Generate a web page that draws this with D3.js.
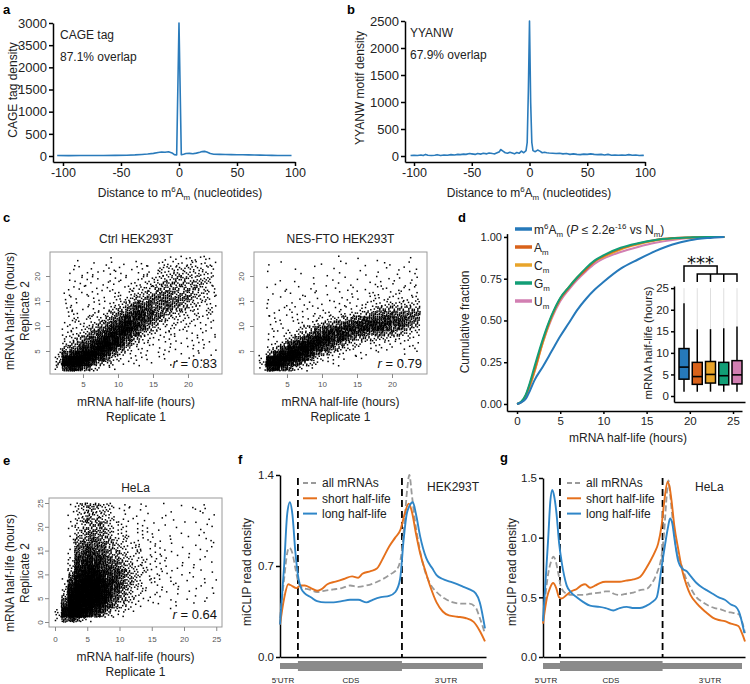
<!DOCTYPE html>
<html><head><meta charset="utf-8">
<script src="https://cdn.jsdelivr.net/npm/d3@7"></script>
<style>
body{margin:0;background:#fff;}
svg{display:block;}
</style></head><body>
<svg id="fig" width="750" height="684"></svg>
<script>
// ---------------- DATA ----------------
// a: CAGE tag density vs distance
const cageX = [-105,-95,-85,-75,-65,-55,-45,-38,-32,-27,-22,-18,-15,-12,-9,-6,-4,-2,0,2,4,6,9,12,15,18,20,22,24,27,30,35,40,45,50,55,60,65,70,75,80,85,90,97];
const cageY = [10,8,10,12,12,15,18,25,35,45,60,80,90,85,95,70,30,25,3000,30,40,55,60,50,65,85,100,105,90,55,40,38,35,32,30,28,25,22,20,18,15,12,10,10];
const cageTickValues = [0,500,1000,1500,2000,2500,3000];
const cageTickLabels = ["0","500","1000","1500","2000","3500","3000"];
// b: YYANW motif density
const yyX = [-103,-100,-97,-94,-92,-90,-88,-85,-82,-80,-77,-74,-71,-68,-65,-62,-60,-57,-55,-52,-50,-47,-45,-42,-40,-37,-35,-32,-30,-28,-26,-25,-23,-21,-19,-17,-15,-13,-11,-9,-7,-5,-3,-2,-1,0,1,2,3,5,7,9,11,13,15,17,20,23,26,29,32,35,38,41,44,47,50,53,56,59,62,65,68,71,74,77,80,83,86,89,92,95,98,99];
const yyY = [10,15,10,20,10,30,15,10,15,25,10,20,15,25,20,30,25,35,30,45,40,30,45,35,50,40,55,45,40,60,80,120,90,60,50,70,55,40,65,50,90,60,100,250,1200,2500,1000,250,100,80,110,90,60,70,60,55,50,45,50,40,45,30,40,30,25,35,30,40,30,25,30,20,30,15,20,15,20,15,25,15,20,10,15,10];
const yyTickValues = [0,500,1000,1500,2000,2500];
const distTicks = [-100,-50,0,50,100];

// c, e: scatter density (level 0-9 per 1h x 1h cell), rows from top (high y) to bottom
const densityCounts = [0,1,2,4,7,12,18,26,36,50];
const ctrlGrid = [
"000010000100000011122221","000100101110111122222222","000110111111111223333322","000111111111112233333332",
"000111111111122333443332","000111111111223344444432","001111111112233444444432","001111111122334455444332",
"001111111223445555554332","001111112234556555543322","001211112345666555443222","001211223456776554332222",
"001222234567776543322221","001222345678765432222211","002223456788764322221111","002234567887643222111111",
"002345678876432211111111","003456789875322111111111","014567898753211111111111","026789987532111111011101",
"038999875321111110101100","049998643211111001000000","026875321100000000000000","000000000000000000000000"];
const nesGrid = [
"000000000000100101000010","001010000100110010110010","000000101001000100011101","001000010010100010101011",
"000010001001010101011111","000100101010101011101111","001010101101011011211111","001011010110101112111211",
"001010110101111112222222","001011011101111122233333","001111111111112223444444","001111111112223345555555",
"001111112223345566666655","001111122344566777776654","001111234566777777765543","001112345677776655544432",
"001123567887765443332221","001246788876543222211111","002468898765432111111111","014789987543211110100101",
"028999875321111100000100","039987643211100000000000","027865321000000000000000","000000000000000000000000"];
const helaGrid = [
"0013444331110110100101010","0012343321110100001001110","0012343321101010010000101","0013444332111100101010010",
"0012344432111101010001011","0013444432211110101000100","0013454432211111010100110","0014455443221111010010011",
"0014555543222111101001001","0015565543322211110100101","0015666544322211101010010","0026676654332221111010110",
"0026777655432221110101001","0037787665433221111101000","0047888766543221111010101","0158898766543221110101010",
"0168999876543221111010011","0279999876543211101101101","0389999876432211110110001","0499999875432111100101010",
"0599999865432111011010010","1699998764321100101001000","2899987643211000010000000","3899876432100000000000000",
"2565310000000000000000000"];
const scatterTicksC = [5,10,15,20];
const scatterTicksE = [0,5,10,15,20,25];

// d: cumulative fraction of mRNA half-life
const cdfHours = [0,0.5,1,1.5,2,3,4,5,6,7,8,9,10,12,14,16,18,20,22,24];
const cdfM6Am = [0,0.01,0.03,0.08,0.14,0.225,0.315,0.405,0.485,0.565,0.63,0.685,0.73,0.81,0.865,0.915,0.955,0.98,0.993,1.0];
const cdfAm = [0,0.012,0.05,0.12,0.2,0.38,0.525,0.63,0.695,0.755,0.805,0.855,0.885,0.93,0.96,0.982,0.993,0.997,1.0,1.0];
const cdfCm = [0,0.012,0.045,0.11,0.19,0.37,0.52,0.63,0.70,0.76,0.81,0.855,0.88,0.925,0.955,0.978,0.99,0.996,1.0,1.0];
const cdfGm = [0,0.015,0.055,0.13,0.22,0.39,0.53,0.635,0.70,0.76,0.815,0.86,0.89,0.935,0.962,0.982,0.992,0.997,1.0,1.0];
const cdfUm = [0,0.012,0.045,0.11,0.19,0.37,0.51,0.615,0.685,0.745,0.795,0.84,0.87,0.91,0.94,0.965,0.982,0.993,0.998,1.0];
const cdfTicksX = [0,5,10,15,20,25];
const cdfTicksY = [0,0.25,0.5,0.75,1];
// d inset boxplot
const boxNames = ["m6Am","Am","Cm","Gm","Um"];
const boxLo = [1,1,1,1,1];
const boxQ1 = [3.9,2.7,3.0,2.6,2.8];
const boxMed = [6.7,4.5,5.0,4.7,4.9];
const boxQ3 = [11.0,7.8,8.0,7.8,8.2];
const boxHi = [21.5,15.5,15.5,15.7,16.1];
const boxOutTop = [25,25,25,25,25];
const boxTicks = [0,5,10,15,20,25];

// f: HEK293T miCLIP metagene (position 0-100 along 5'UTR-CDS-3'UTR)
const fAllPos = [0,2,3.5,4.5,6,7.5,9,11,14,18,22,26,30,34,38,42,46,50,54,57,59,60.5,61.8,62.8,64,65.5,67,70,73,76,80,84,88,92,95,97,99.5];
const fAllVal = [0.3,0.6,0.8,0.84,0.8,0.68,0.57,0.53,0.52,0.5,0.51,0.52,0.53,0.55,0.54,0.55,0.57,0.6,0.64,0.68,0.8,1.05,1.3,1.4,1.25,1.05,0.9,0.68,0.56,0.5,0.45,0.42,0.41,0.41,0.38,0.3,0.18];
const fShortPos = [0,2,4,5.5,8,10,12,15,18,20,23,27,31,35,38,40,44,47,50,53,56,58.5,60.5,62.5,64,66,68,71,73,76,79,82,86,90,94,97,99.5];
const fShortVal = [0.25,0.45,0.56,0.55,0.53,0.55,0.55,0.53,0.51,0.52,0.56,0.58,0.6,0.62,0.61,0.64,0.66,0.68,0.76,0.85,0.92,0.98,1.1,1.18,1.12,0.95,0.8,0.64,0.54,0.42,0.35,0.32,0.31,0.3,0.27,0.2,0.12];
const fLongPos = [0,2,3.5,4.8,6,7.5,9,10.5,12,15,18,22,26,30,34,38,42,45,49,53,56,58.3,60,61.5,62.5,64.5,66,68,71,74,76,79,82.5,86,89,92,95,97,99.5];
const fLongVal = [0.25,0.7,1.1,1.19,1.1,0.8,0.6,0.52,0.49,0.46,0.43,0.42,0.42,0.43,0.44,0.44,0.42,0.44,0.46,0.47,0.5,0.6,0.9,1.1,1.15,1.19,1.1,0.93,0.76,0.68,0.63,0.6,0.58,0.56,0.54,0.52,0.49,0.42,0.22];
const fBounds = [8.7,59.2];
const fTicks = [0,0.7,1.4];
// g: HeLa miCLIP metagene
const gAllPos = [0,2.6,4,5.1,6,7.6,9,11.7,14,16.7,20,23.3,28.2,31,33.2,35,38.1,41.4,44.7,48,51.3,54,56.3,58.7,60,61,62.1,63,64.5,66,68,71,73,76,79,82,85,88,91,94,96.7,98.5,100];
const gAllVal = [0.3,0.7,0.8,0.84,0.82,0.7,0.58,0.53,0.52,0.52,0.52,0.53,0.54,0.55,0.55,0.53,0.52,0.53,0.54,0.56,0.57,0.62,0.7,0.85,1.05,1.3,1.48,1.35,1.1,0.9,0.8,0.65,0.58,0.5,0.46,0.43,0.41,0.4,0.38,0.37,0.36,0.3,0.2];
const gShortPos = [0,2,3.5,5,6.5,8,9.2,11.7,14,16.7,19,20.8,23.3,26,28.2,31,34.8,38,41,44.7,48,51.3,53,55.4,57,58.7,60,61.7,62.7,63.7,65,67,69,71.1,73,76.1,79,81,84,87,90,93,96.7,98.5,100];
const gShortVal = [0.28,0.5,0.58,0.62,0.58,0.5,0.49,0.52,0.55,0.57,0.6,0.61,0.58,0.6,0.62,0.63,0.63,0.63,0.64,0.65,0.67,0.75,0.8,0.88,0.95,1.1,1.3,1.47,1.42,1.3,1.1,0.9,0.72,0.6,0.52,0.45,0.4,0.37,0.33,0.31,0.3,0.28,0.26,0.2,0.13];
const gLongPos = [0,1.5,2.6,3.6,4.6,5.5,6.7,8,9.2,10.5,11.7,14,16.7,20,23.3,28,31,34.8,38,41.4,45,48,51.3,54,56.3,58.7,60.5,61.8,62.9,64,65,67,69,71,73,76,79,81,84,87,90,93,95.5,97,99.7];
const gLongVal = [0.3,0.7,1.0,1.3,1.4,1.35,1.2,0.95,0.8,0.68,0.6,0.54,0.5,0.46,0.43,0.42,0.41,0.39,0.41,0.42,0.41,0.41,0.43,0.46,0.5,0.75,0.95,1.08,1.16,1.12,1.0,0.8,0.74,0.72,0.68,0.62,0.58,0.56,0.53,0.5,0.48,0.44,0.42,0.38,0.2];
const gBounds = [8.4,59.2];
const gTicks = [0,0.5,1.0,1.5];

// ---------------- DRAWING ----------------
const FONT = "'Liberation Sans', Arial, Helvetica, sans-serif";
const TXT = "#222";
const svg = d3.select("#fig");
svg.append("rect").attr("width",750).attr("height",684).attr("fill","#fff");

function richText(parent, x, y, parts, size, opts) {
  opts = opts || {};
  const t = parent.append("text").attr("x",x).attr("y",y).attr("font-size",size)
    .attr("font-family",FONT).attr("fill",opts.fill||TXT);
  if (opts.anchor) t.attr("text-anchor",opts.anchor);
  if (opts.transform) t.attr("transform",opts.transform);
  if (opts.weight) t.attr("font-weight",opts.weight);
  let cur = 0;
  parts.forEach(p => {
    const s = typeof p === "string" ? {t:p} : p;
    let target = 0, fs = size;
    if (s.sup) { target = -size*0.38; fs = size*0.66; }
    if (s.sub) { target = size*0.25; fs = size*0.66; }
    const ts = t.append("tspan").text(s.t).attr("dy", target-cur).attr("font-size",fs);
    if (s.it) ts.attr("font-style","italic");
    cur = target;
  });
  return t;
}
function label(parent,x,y,s,size,opts){ return richText(parent,x,y,[s],size,opts); }
function axisStyle(sel,size,color,sw){
  sel.select(".domain").attr("stroke",color).attr("stroke-width",sw);
  sel.selectAll(".tick line").attr("stroke",color).attr("stroke-width",sw);
  sel.selectAll(".tick text").attr("font-size",size).attr("font-family",FONT).attr("fill",TXT);
}
function lineFrom(xs,ys,xS,yS,curve){
  const l = d3.line().x(i=>xS(xs[i])).y(i=>yS(ys[i]));
  if (curve) l.curve(curve);
  return l(d3.range(xs.length));
}
const plain = d => String(d);
const LINE_BLUE = "#2a7bbb";
const distLabel = ["Distance to m",{t:"6",sup:true},"A",{t:"m",sub:true}," (nucleotides)"];

// panel letters
[["a",3,14],["b",347,14],["c",3,222],["d",458,222],["e",3,465],["f",238,464],["g",500,462]].forEach(d=>{
  label(svg,d[1],d[2],d[0],13,{weight:"bold",fill:"#000"});
});

// ---- a ----
(function(){
  const g = svg.append("g");
  const x = d3.scaleLinear().domain([-108.6,100]).range([53,295]);
  const y = d3.scaleLinear().domain([-135,3000]).range([162,23]);
  g.append("g").attr("transform","translate(0,162)")
    .call(d3.axisBottom(x).tickValues(distTicks).tickFormat(plain).tickSize(4).tickSizeOuter(0).tickPadding(2))
    .call(axisStyle,12.5,"#000",1.5);
  g.append("g").attr("transform","translate(53,0)")
    .call(d3.axisLeft(y).tickValues(cageTickValues).tickFormat((d,i)=>cageTickLabels[i]).tickSize(4).tickSizeOuter(0).tickPadding(2))
    .call(axisStyle,13,"#000",1.5);
  g.append("path").attr("d",lineFrom(cageX,cageY,x,y)).attr("fill","none").attr("stroke",LINE_BLUE).attr("stroke-width",1.6).attr("stroke-linejoin","round");
  label(g,60,39,"CAGE tag",12);
  label(g,60,61,"87.1% overlap",12);
  richText(g,180,197,distLabel,12,{anchor:"middle"});
  label(g,0,0,"CAGE tag density",12,{anchor:"middle",transform:"translate(17,90) rotate(-90)"});
})();

// ---- b ----
(function(){
  const g = svg.append("g");
  const x = d3.scaleLinear().domain([-107.8,100]).range([405,645]);
  const y = d3.scaleLinear().domain([-111,2500]).range([162,21]);
  g.append("g").attr("transform","translate(0,162)")
    .call(d3.axisBottom(x).tickValues(distTicks).tickFormat(plain).tickSize(4).tickSizeOuter(0).tickPadding(2))
    .call(axisStyle,12.5,"#000",1.5);
  g.append("g").attr("transform","translate(405,0)")
    .call(d3.axisLeft(y).tickValues(yyTickValues).tickFormat(plain).tickSize(4).tickSizeOuter(0).tickPadding(2))
    .call(axisStyle,13,"#000",1.5);
  g.append("path").attr("d",lineFrom(yyX,yyY,x,y)).attr("fill","none").attr("stroke",LINE_BLUE).attr("stroke-width",1.6).attr("stroke-linejoin","round");
  label(g,410,37,"YYANW",12);
  label(g,410,59,"67.9% overlap",12);
  richText(g,529,197,distLabel,12,{anchor:"middle"});
  label(g,0,0,"YYANW motif density",12,{anchor:"middle",transform:"translate(364,88) rotate(-90)"});
})();

// ---- scatter helper ----
function scatterPanel(opt){
  const g = svg.append("g");
  const x = d3.scaleLinear().domain(opt.xd).range([opt.box[0],opt.box[2]]);
  const y = d3.scaleLinear().domain(opt.yd).range([opt.box[3],opt.box[1]]);
  const grid = opt.grid, nRows = grid.length;
  const pts = [];
  let k = opt.seed || 0;
  grid.forEach((row,r)=>{
    const yb = nRows-1-r;
    for (let c=0;c<row.length;c++){
      const n = densityCounts[+row[c]];
      for (let i=0;i<n;i++){
        k++;
        const u = (0.5 + k*0.7548776662) % 1, v = (0.5 + k*0.5698402910) % 1;
        const px = c+u, py = yb+v;
        if (px>opt.xd[0] && px<opt.xd[1] && py>opt.yd[0] && py<opt.yd[1]) pts.push([px,py]);
      }
    }
  });
  g.append("g").selectAll("rect").data(pts).join("rect")
    .attr("x",d=>x(d[0])-0.75).attr("y",d=>y(d[1])-0.75).attr("width",1.5).attr("height",1.5).attr("fill","#000");
  g.append("rect").attr("x",opt.box[0]).attr("y",opt.box[1]).attr("width",opt.box[2]-opt.box[0]).attr("height",opt.box[3]-opt.box[1])
    .attr("fill","none").attr("stroke","#9a9a9a").attr("stroke-width",1);
  const ax = g.append("g").attr("transform",`translate(0,${opt.box[3]})`)
    .call(d3.axisBottom(x).tickValues(opt.ticks).tickSize(4).tickSizeOuter(0).tickPadding(opt.xpad));
  ax.select(".domain").remove();
  ax.selectAll(".tick line").attr("stroke","#888");
  ax.selectAll(".tick text").attr("font-size",8).attr("font-family",FONT).attr("fill","#555");
  const ay = g.append("g").attr("transform",`translate(${opt.box[0]},0)`)
    .call(d3.axisLeft(y).tickValues(opt.ticks).tickSize(4).tickSizeOuter(0));
  ay.select(".domain").remove();
  ay.selectAll(".tick line").attr("stroke","#888");
  ay.selectAll(".tick text").attr("font-size",8).attr("font-family",FONT).attr("fill","#555")
    .attr("x",0).attr("y",-opt.ypad).attr("dy",0).attr("text-anchor","middle").attr("transform","rotate(-90)");
  const cx = (opt.box[0]+opt.box[2])/2;
  label(g,cx,opt.titleY,opt.title,12,{anchor:"middle"});
  richText(g,opt.box[2]-5,opt.rY,[{t:"r",it:true}," = "+opt.r],13,{anchor:"end",fill:"#111"});
  label(g,cx,opt.xlY,"mRNA half-life (hours)",12,{anchor:"middle"});
  label(g,cx,opt.xlY+15,"Replicate 1",12,{anchor:"middle"});
  if (opt.ylab){
    label(g,0,0,"mRNA half-life (hours)",12,{anchor:"middle",transform:`translate(14,${opt.ylab}) rotate(-90)`});
    label(g,0,0,"Replicate 2",12,{anchor:"middle",transform:`translate(29,${opt.ylab}) rotate(-90)`});
  }
}
scatterPanel({grid:ctrlGrid,xd:[0.29,24.86],yd:[0.4,24.8],box:[50,252,222,374],ticks:scatterTicksC,xpad:3,ypad:10,
  title:"Ctrl HEK293T",titleY:243,r:"0.83",rY:368,xlY:406,ylab:311,seed:0});
scatterPanel({grid:nesGrid,xd:[0.29,25.0],yd:[0.4,24.8],box:[254,252,427,374],ticks:scatterTicksC,xpad:3,ypad:10,
  title:"NES-FTO HEK293T",titleY:243,r:"0.79",rY:368,xlY:406,ylab:null,seed:7000});
scatterPanel({grid:helaGrid,xd:[-0.93,25.89],yd:[-1.05,26.05],box:[49,498,222,627],ticks:scatterTicksE,xpad:5,ypad:6,
  title:"HeLa",titleY:492,r:"0.64",rY:619,xlY:661,ylab:573,seed:15000});

// ---- d ----
(function(){
  const g = svg.append("g");
  const x = d3.scaleLinear().domain([-1.16,26.04]).range([507,742]);
  const y = d3.scaleLinear().domain([-0.042,1.02]).range([411,233.6]);
  g.append("g").attr("transform","translate(0,411)")
    .call(d3.axisBottom(x).tickValues(cdfTicksX).tickSize(3).tickSizeOuter(0).tickPadding(3))
    .call(axisStyle,11.5,"#000",1.5);
  g.append("g").attr("transform","translate(507,0)")
    .call(d3.axisLeft(y).tickValues(cdfTicksY).tickFormat(d3.format(".2f")).tickSize(3).tickSizeOuter(0).tickPadding(2))
    .call(axisStyle,11,"#000",1.5);
  const series = [
    {v:cdfUm,c:"#d27fb2"},{v:cdfCm,c:"#e8a42a"},{v:cdfAm,c:"#d9621a"},{v:cdfGm,c:"#129e76"},{v:cdfM6Am,c:"#2679ba"}];
  series.forEach(s=>{
    g.append("path").attr("d",lineFrom(cdfHours,s.v,x,y,d3.curveMonotoneX)).attr("fill","none").attr("stroke",s.c).attr("stroke-width",2);
  });
  label(g,628,442,"mRNA half-life (hours)",12,{anchor:"middle"});
  label(g,0,0,"Cumulative fraction",12,{anchor:"middle",transform:"translate(469,322) rotate(-90)"});
  // legend
  const leg = [
    {c:"#2679ba",p:["m",{t:"6",sup:true},"A",{t:"m",sub:true}," (",{t:"P",it:true}," \u2264 2.2e",{t:"-16",sup:true}," vs N",{t:"m",sub:true},")"]},
    {c:"#d9621a",p:["A",{t:"m",sub:true}]},
    {c:"#e8a42a",p:["C",{t:"m",sub:true}]},
    {c:"#129e76",p:["G",{t:"m",sub:true}]},
    {c:"#d27fb2",p:["U",{t:"m",sub:true}]}];
  leg.forEach((l,i)=>{
    const yy = 229 + i*18;
    g.append("line").attr("x1",515).attr("x2",532).attr("y1",yy).attr("y2",yy).attr("stroke",l.c).attr("stroke-width",3.5);
    richText(g,534,yy+4.5,l.p,12);
  });
  // inset boxplot
  const xi = d3.scalePoint().domain(boxNames).range([684,737]);
  const yi = d3.scaleLinear().domain([-1.39,25.5]).range([402,286]);
  g.append("g").attr("transform","translate(674,0)")
    .call(d3.axisLeft(yi).tickValues(boxTicks).tickSize(3).tickSizeOuter(0).tickPadding(2))
    .call(axisStyle,11.5,"#000",1.5);
  const xl = d3.scaleLinear().domain([0,1]).range([674,745]);
  g.append("g").attr("transform","translate(0,402)")
    .call(d3.axisBottom(xl).tickValues([]).tickSizeOuter(0))
    .call(axisStyle,11,"#000",1.5);
  const bcol = ["#2679ba","#d9621a","#e8a42a","#129e76","#d27fb2"];
  boxNames.forEach((n,i)=>{
    const cx = xi(n), w = 10;
    g.append("line").attr("x1",cx).attr("x2",cx).attr("y1",yi(boxOutTop[i])).attr("y2",yi(boxHi[i])).attr("stroke","#dedede").attr("stroke-width",1);
    g.append("line").attr("x1",cx).attr("x2",cx).attr("y1",yi(boxHi[i])).attr("y2",yi(boxLo[i])).attr("stroke","#000").attr("stroke-width",1.5);
    g.append("rect").attr("x",cx-w/2).attr("y",yi(boxQ3[i])).attr("width",w).attr("height",yi(boxQ1[i])-yi(boxQ3[i]))
      .attr("fill",bcol[i]).attr("stroke","#000").attr("stroke-width",1.5);
    g.append("line").attr("x1",cx-w/2).attr("x2",cx+w/2).attr("y1",yi(boxMed[i])).attr("y2",yi(boxMed[i])).attr("stroke","#000").attr("stroke-width",1.6);
  });
  // significance bracket
  const x0 = xi("m6Am"), xs = boxNames.slice(1).map(n=>xi(n));
  const xm = (xs[0]+xs[xs.length-1])/2;
  const br = g.append("g").attr("stroke","#000").attr("stroke-width",1.5).attr("fill","none");
  br.append("path").attr("d",`M${x0},282V266H${xm}V274`);
  br.append("path").attr("d",`M${xs[0]},282V274H${xs[xs.length-1]}V282`);
  xs.slice(1,-1).forEach(v=>br.append("line").attr("x1",v).attr("x2",v).attr("y1",274).attr("y2",282));
  g.append("text").attr("x",(x0+xm)/2).attr("y",268.5).attr("text-anchor","middle").attr("font-size",18)
    .attr("font-family","'DejaVu Sans', sans-serif").attr("fill","#111").text("***");
  label(g,0,0,"mRNA half-life (hours)",11.5,{anchor:"middle",transform:"translate(652,343) rotate(-90)"});
})();

// ---- f, g metagene ----
function metaPanel(o){
  const g = svg.append("g");
  const x = d3.scaleLinear().domain([0,100]).range([o.x0,o.x1]);
  const y = d3.scaleLinear().domain([0,o.ymax]).range([657,o.ytop]);
  g.append("g").attr("transform",`translate(${o.x0},0)`)
    .call(d3.axisLeft(y).tickValues(o.ticks).tickFormat(d3.format(".1f")).tickSize(4).tickSizeOuter(0).tickPadding(2))
    .call(axisStyle,11.5,"#000",1.5);
  g.append("g").attr("transform","translate(0,657)")
    .call(d3.axisBottom(x).tickValues([]).tickSizeOuter(0))
    .call(axisStyle,11,"#000",1.5);
  // region boundary dashed lines
  o.bounds.forEach(b=>{
    g.append("line").attr("x1",x(b)).attr("x2",x(b)).attr("y1",478).attr("y2",657)
      .attr("stroke","#000").attr("stroke-width",1.8).attr("stroke-dasharray","7,4");
  });
  const curve = d3.curveMonotoneX;
  g.append("path").attr("d",lineFrom(o.allPos,o.allVal,x,y,curve)).attr("fill","none").attr("stroke","#9a9a9a").attr("stroke-width",1.8).attr("stroke-dasharray","6,3");
  g.append("path").attr("d",lineFrom(o.shortPos,o.shortVal,x,y,curve)).attr("fill","none").attr("stroke","#e5701c").attr("stroke-width",1.9);
  g.append("path").attr("d",lineFrom(o.longPos,o.longVal,x,y,curve)).attr("fill","none").attr("stroke","#2f86c8").attr("stroke-width",1.9);
  // gene model bar
  g.append("rect").attr("x",o.x0).attr("y",663).attr("width",o.barEnd-o.x0).attr("height",6).attr("fill","#8a8a8a");
  g.append("rect").attr("x",x(o.bounds[0])).attr("y",661).attr("width",x(o.bounds[1])-x(o.bounds[0])).attr("height",10).attr("fill","#8a8a8a");
  label(g,o.lab[0],683,"5'UTR",8,{anchor:"middle"});
  label(g,o.lab[1],683,"CDS",8,{anchor:"middle"});
  label(g,o.lab[2],683,"3'UTR",8,{anchor:"middle"});
  // legend
  const lg = [{t:"all mRNAs",c:"#9a9a9a",d:"5,3"},{t:"short half-life",c:"#e5701c"},{t:"long half-life",c:"#2f86c8"}];
  lg.forEach((l,i)=>{
    const yy = o.legY + i*15.3;
    const ln = g.append("line").attr("x1",o.legX).attr("x2",o.legX+14).attr("y1",yy).attr("y2",yy).attr("stroke",l.c).attr("stroke-width",2);
    if (l.d) ln.attr("stroke-dasharray",l.d);
    label(g,o.legX+19,yy+4.3,l.t,12);
  });
  label(g,o.cellX,491,o.cell,12);
  label(g,0,0,"miCLIP read density",12,{anchor:"middle",transform:`translate(${o.ylabX},572) rotate(-90)`});
}
metaPanel({x0:280,x1:486,barEnd:483,ymax:1.4,ytop:475,ticks:fTicks,bounds:fBounds,
  allPos:fAllPos,allVal:fAllVal,shortPos:fShortPos,shortVal:fShortVal,longPos:fLongPos,longVal:fLongVal,
  lab:[283,351,446],legX:303,legY:483,cell:"HEK293T",cellX:427,ylabX:251});
metaPanel({x0:543,x1:745,barEnd:742,ymax:1.5,ytop:478,ticks:gTicks,bounds:gBounds,
  allPos:gAllPos,allVal:gAllVal,shortPos:gShortPos,shortVal:gShortVal,longPos:gLongPos,longVal:gLongVal,
  lab:[546,611,710],legX:567,legY:483,cell:"HeLa",cellX:695,ylabX:516});
</script>
</body></html>
